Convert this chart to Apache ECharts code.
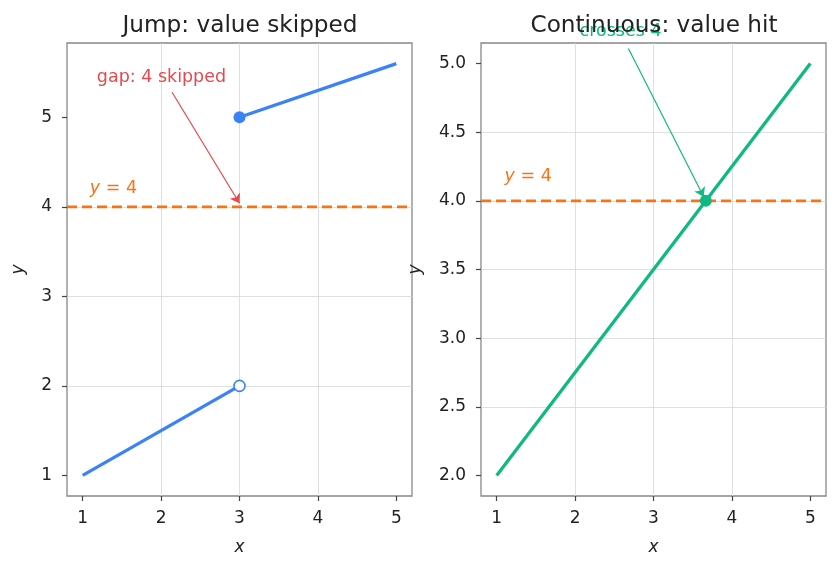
<!DOCTYPE html>
<html>
<head>
<meta charset="utf-8">
<script src="https://cdn.jsdelivr.net/npm/echarts@6/dist/echarts.min.js"></script>
<style>html,body{margin:0;padding:0;background:#fff}#c{width:840px;height:569px}</style>
</head>
<body>
<div id="c"></div>
<script>
// ---- data ----
const leftLowX = [1, 3];
const leftLowY = [1, 2];
const leftHighX = [3, 5];
const leftHighY = [5, 5.6];
const openPoint = [3, 2];
const closedPoint = [3, 5];
const rightX = [1, 5];
const rightY = [2, 5];
const crossPoint = [3.667, 4];
const thresholdY = 4;
const xTicks = [1, 2, 3, 4, 5];
const leftYTicks = [1, 2, 3, 4, 5];
const rightYTicks = [2.0, 2.5, 3.0, 3.5, 4.0, 4.5, 5.0];
const xRange = [0.8, 5.2];
const leftYRange = [0.77, 5.83];
const rightYRange = [1.85, 5.15];
const titles = ['Jump: value skipped', 'Continuous: value hit'];
const gapNote = {text: 'gap: 4 skipped', at: [1.18, 5.45], from: [2.14, 5.28], to: [3, 4.04]};
const crossNote = {text: 'crosses 4', at: [2.58, 5.235], from: [2.68, 5.11], to: [3.64, 4.03]};
const leftYLabelAt = [1.09, 4.2];
const rightYLabelAt = [1.1, 4.18];

const BLUE = '#3b82f6', GREEN = '#10b981', ORANGE = '#f97316', RED = '#e5484d';
const FONT = 'DejaVu Sans';
const TICK_FS = 17, NOTE_FS = 17.5, TITLE_FS = 23.2;
const zip = (a, b) => a.map((v, i) => [v, b[i]]);

function xAxis(idx) {
  return {
    type: 'value', gridIndex: idx, min: xRange[0], max: xRange[1],
    name: 'x', nameLocation: 'middle', nameGap: 43,
    nameTextStyle: {fontFamily: FONT, fontSize: TICK_FS, fontStyle: 'italic', color: '#222'},
    axisLine: {show: false},
    axisTick: {show: true, length: 5, lineStyle: {color: '#444', width: 1.2}, customValues: xTicks},
    axisLabel: {customValues: xTicks, margin: 14, fontFamily: FONT, fontSize: TICK_FS, color: '#222'},
    splitLine: {show: true, showMinLine: false, showMaxLine: false, lineStyle: {color: '#d4d8dc', width: 0.8}}
  };
}
function yAxis(idx, range, ticks, fmt, gap) {
  return {
    type: 'value', gridIndex: idx, min: range[0], max: range[1],
    name: 'y', nameLocation: 'middle', nameGap: gap, nameRotate: 90,
    nameTextStyle: {fontFamily: FONT, fontSize: TICK_FS, fontStyle: 'italic', color: '#222'},
    axisLine: {show: false},
    axisTick: {show: true, length: 5, lineStyle: {color: '#444', width: 1.2}, customValues: ticks},
    axisLabel: {customValues: ticks, margin: 15, fontFamily: FONT, fontSize: TICK_FS, color: '#222', formatter: fmt},
    splitLine: {show: true, showMinLine: false, showMaxLine: false, lineStyle: {color: '#d4d8dc', width: 0.8}}
  };
}
function textPoint(idx, pos, content, color, align, rich) {
  return {
    type: 'scatter', xAxisIndex: idx, yAxisIndex: idx, clip: false, silent: true,
    symbolSize: 0, data: [pos], z: 1, itemStyle: {opacity: 1},
    label: {show: true, position: align, distance: 0, formatter: content, color: color,
      fontFamily: FONT, fontSize: NOTE_FS, opacity: 1, rich: rich || {}}
  };
}
function arrow(idx, note, color) {
  return {
    type: 'line', xAxisIndex: idx, yAxisIndex: idx, data: [], silent: true,
    markLine: {silent: true, symbol: ['none', 'arrow'], symbolSize: 9, animation: false,
      label: {show: false}, emphasis: {disabled: true},
      lineStyle: {color: color, width: 1.2, type: 'solid', opacity: 1},
      data: [[{coord: note.from}, {coord: note.to}]]}
  };
}
function hline(idx) {
  return {
    type: 'line', xAxisIndex: idx, yAxisIndex: idx, showSymbol: false, silent: true,
    data: [[xRange[0], thresholdY], [xRange[1], thresholdY]],
    lineStyle: {color: ORANGE, width: 2.8, type: [10, 5]}, z: 3
  };
}
const yRich = {i: {fontStyle: 'italic', fontFamily: FONT, fontSize: NOTE_FS, color: ORANGE},
               n: {fontFamily: FONT, fontSize: NOTE_FS, color: ORANGE}};

const chart = echarts.init(document.getElementById('c'), null, {renderer: 'canvas'});
chart.setOption({
  animation: false,
  backgroundColor: '#fff',
  title: [
    {text: titles[0], left: 235, top: 9, textAlign: 'center', z: 6, textStyle: {fontFamily: FONT, fontSize: TITLE_FS, fontWeight: 'normal', color: '#222'}},
    {text: titles[1], left: 649, top: 9, textAlign: 'center', z: 6, textStyle: {fontFamily: FONT, fontSize: TITLE_FS, fontWeight: 'normal', color: '#222'}}
  ],
  grid: [
    {left: 67, top: 43, width: 345, height: 453, show: true, borderColor: '#888', borderWidth: 1.3, backgroundColor: '#fff'},
    {left: 481, top: 43, width: 345, height: 453, show: true, borderColor: '#888', borderWidth: 1.3, backgroundColor: '#fff'}
  ],
  xAxis: [xAxis(0), xAxis(1)],
  yAxis: [
    yAxis(0, leftYRange, leftYTicks, v => String(v), 40),
    yAxis(1, rightYRange, rightYTicks, v => v.toFixed(1), 57)
  ],
  series: [
    hline(0),
    {type: 'line', xAxisIndex: 0, yAxisIndex: 0, showSymbol: false, data: zip(leftLowX, leftLowY), lineStyle: {color: BLUE, width: 3.3}, z: 4},
    {type: 'line', xAxisIndex: 0, yAxisIndex: 0, showSymbol: false, data: zip(leftHighX, leftHighY), lineStyle: {color: BLUE, width: 3.3}, z: 4},
    {type: 'scatter', xAxisIndex: 0, yAxisIndex: 0, symbolSize: 12, data: [closedPoint], itemStyle: {color: BLUE, opacity: 1}, z: 5},
    {type: 'scatter', xAxisIndex: 0, yAxisIndex: 0, symbolSize: 11, data: [openPoint], itemStyle: {color: '#fff', borderColor: BLUE, borderWidth: 1.6, opacity: 1}, z: 5},
    arrow(0, gapNote, RED),
    textPoint(0, gapNote.at, gapNote.text, RED, 'right'),
    textPoint(0, leftYLabelAt, '{i|y} {n|= 4}', ORANGE, 'right', yRich),
    hline(1),
    {type: 'line', xAxisIndex: 1, yAxisIndex: 1, showSymbol: false, data: zip(rightX, rightY), lineStyle: {color: GREEN, width: 3.3}, z: 4},
    {type: 'scatter', xAxisIndex: 1, yAxisIndex: 1, symbolSize: 12, data: [crossPoint], itemStyle: {color: GREEN, opacity: 1}, z: 5},
    arrow(1, crossNote, GREEN),
    textPoint(1, crossNote.at, crossNote.text, GREEN, 'inside'),
    textPoint(1, rightYLabelAt, '{i|y} {n|= 4}', ORANGE, 'right', yRich)
  ]
});
</script>
</body>
</html>
